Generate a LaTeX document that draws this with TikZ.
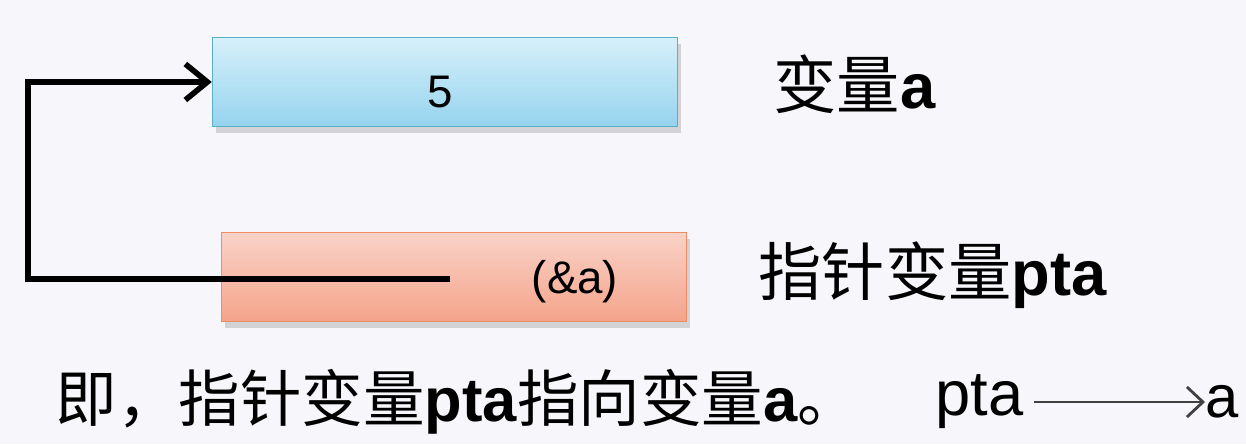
\documentclass[tikz,border=0pt]{standalone}
\usepackage{fontspec}
\setmainfont{Liberation Sans}
\newfontfamily\cjk{Noto Sans CJK SC}
\usetikzlibrary{arrows.meta, positioning, shadows}
\definecolor{pagebg}{RGB}{247, 246, 250}
\definecolor{celltop}{RGB}{214, 240, 250}
\definecolor{cellbot}{RGB}{150, 211, 238}
\definecolor{cellline}{RGB}{86, 176, 200}
\definecolor{ptrtop}{RGB}{250, 210, 200}
\definecolor{ptrbot}{RGB}{244, 164, 138}
\definecolor{ptrline}{RGB}{236, 140, 100}
\tikzset{
  >={Straight Barb[length=2.2mm, width=3.6mm, line width=1.6pt]},
  varbox/.style={draw=cellline, top color=celltop, bottom color=cellbot, minimum width=46.5mm, minimum height=8.9mm, font=\fontsize{13}{15}\selectfont, drop shadow={opacity=0.3, shadow xshift=0.3mm, shadow yshift=-0.7mm}},
  ptrbox/.style={varbox, draw=ptrline, top color=ptrtop, bottom color=ptrbot},
  labeltext/.style={font=\fontsize{18}{20}\selectfont, inner sep=0pt},
  pointsto/.style={->, line width=1.6pt, black},
  thinarrow/.style={-{Straight Barb[length=1.6mm, width=3mm, line width=0.8pt]}, line width=0.8pt, black!75}
}

\begin{document}
\begin{tikzpicture}[x=0.1mm, y=0.1mm]
    \useasboundingbox[fill=pagebg] (0,0) rectangle (1246,444);

    % --- variable a and the pointer ---
    \node[varbox] (a) at (445,362) {};
    \node at (440,352) [font=\fontsize{13}{15}\selectfont] (aval) {5};
    \node[ptrbox] (pta) at (454,167) {};
    \node at (575,162) [font=\fontsize{13}{15}\selectfont] (ptaval) {(\&a)};

    % labels on the right
    \node[labeltext, anchor=west] (alabel) at (773,360) {{\cjk 变量}\textbf{a}};
    \node[labeltext, anchor=west] (ptalabel) at (758,169) {{\cjk 指针变量}\textbf{pta}};

    % pointer line
    \coordinate (ptrend) at (450,165);
    \draw[pointsto] (ptrend) -- ++(-422,0) |- (a.west);

    % --- summary line ---
    \node[labeltext, anchor=west, font=\fontsize{17.5}{20}\selectfont] (summary) at (55,42) {{\cjk 即，指针变量}\textbf{pta}{\cjk 指向变量}\textbf{a}{\cjk 。}};
    \node[labeltext, anchor=west] (ptaword) at (935,42) {pta};
    \node[labeltext, anchor=west, font=\fontsize{17}{20}\selectfont] (aword) at (1205,42) {a};
    \draw[thinarrow, shorten <=1mm] (ptaword.east) -- (aword.west);
\end{tikzpicture}
\end{document}
